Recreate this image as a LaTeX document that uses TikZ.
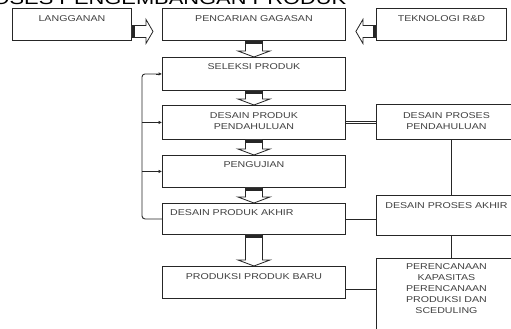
\documentclass[tikz,border=0pt]{standalone}
\usepackage{fontspec}
\newfontfamily\boxfont[FakeStretch=1.25]{Liberation Sans}
\usetikzlibrary{arrows.meta,calc}
\tikzset{
  box/.style={draw=black!85, line width=0.9pt, fill=white, inner sep=0pt, anchor=north west},
  lbl/.style={inner sep=0pt, text=black!75, font=\fontsize{8.5}{11}\selectfont\boxfont, align=center},
  conn/.style={draw=black!85, line width=0.9pt},
  fbarrow/.style={conn, -{Latex[length=3.5pt,width=3.5pt]}},
  blk/.style={fill=white, draw=black!85, line width=0.8pt, line join=miter},
  blkdark/.style={fill=black!85},
}
\newcommand\blockdown[2]{%
  \path[blk] let \p1=(#1.south), \p2=(#2.north) in
    (\x1-8.5pt,\y1) -- (\x1-8.5pt,\y2+6pt) -- (\x1-16pt,\y2+6pt) -- (\x1,\y2)
    -- (\x1+16pt,\y2+6pt) -- (\x1+8.5pt,\y2+6pt) -- (\x1+8.5pt,\y1) -- cycle;
  \path[blkdark] let \p1=(#1.south) in
    (\x1-8.5pt,\y1) rectangle (\x1+8.5pt,\y1-3pt);}
\newcommand\blockright[2]{%
  \path[blk] let \p1=(#1.east), \p2=(#2.west) in
    (\x1,\y1-1pt) -- (\x2-16pt,\y1-1pt) -- (\x2-16pt,\y1+5pt) -- (\x2-9pt,\y1-7pt)
    -- (\x2-16pt,\y1-19pt) -- (\x2-16pt,\y1-13pt) -- (\x1,\y1-13pt) -- cycle;
  \path[blkdark] let \p1=(#1.east) in
    (\x1,\y1-1pt) rectangle (\x1+3pt,\y1-13pt);}
\newcommand\blockleft[2]{%
  \path[blk] let \p1=(#1.west), \p2=(#2.east) in
    (\x1,\y1-1pt) -- (\x2+17pt,\y1-1pt) -- (\x2+17pt,\y1+5pt) -- (\x2+10pt,\y1-7pt)
    -- (\x2+17pt,\y1-19pt) -- (\x2+17pt,\y1-13pt) -- (\x1,\y1-13pt) -- cycle;
  \path[blkdark] let \p1=(#1.west) in
    (\x1,\y1-1pt) rectangle (\x1-3pt,\y1-13pt);}
\begin{document}
\begin{tikzpicture}[x=1pt,y=-1pt]
\useasboundingbox (0,0) rectangle (511,329);
\clip (0,0) rectangle (511,329);
\fill[white] (0,0) rectangle (511,329);
% title (cut at top, as in the reference)
\node[inner sep=0pt, anchor=base west, font=\fontsize{17.5}{20}\selectfont\boxfont] (title) at (-38,4.5) {PROSES PENGEMBANGAN PRODUK};
% boxes
\node[box, minimum width=119pt, minimum height=32pt] (lang) at (12,8) {};
\node[box, minimum width=183pt, minimum height=32pt] (penc) at (162,8) {};
\node[box, minimum width=130pt, minimum height=32pt] (tek) at (376,8) {};
\node[box, minimum width=183pt, minimum height=33pt] (sel) at (162,57) {};
\node[box, minimum width=183pt, minimum height=34pt] (dpp) at (162,105) {};
\node[box, minimum width=183pt, minimum height=32pt] (uji) at (162,155) {};
\node[box, minimum width=183pt, minimum height=31pt] (dpa) at (162,203) {};
\node[box, minimum width=183pt, minimum height=32pt] (prod) at (162,266) {};
\node[box, minimum width=140pt, minimum height=35pt] (dprp) at (376,104) {};
\node[box, minimum width=140pt, minimum height=40pt] (dpra) at (376,195) {};
\node[box, minimum width=140pt, minimum height=80pt] (pkp) at (376,258) {};
% labels
\node[lbl, anchor=north] (tlang) at ([yshift=-7pt]lang.north) {LANGGANAN};
\node[lbl, anchor=north] (tpenc) at ([yshift=-7pt]penc.north) {PENCARIAN GAGASAN};
\node[lbl, anchor=north] (ttek) at ([yshift=-7pt]tek.north) {TEKNOLOGI R\&D};
\node[lbl, anchor=north] (tsel) at ([yshift=-6pt]sel.north) {SELEKSI PRODUK};
\node[lbl, anchor=north] (tdpp) at ([yshift=-7pt]dpp.north) {DESAIN PRODUK\\PENDAHULUAN};
\node[lbl, anchor=north] (tuji) at ([yshift=-6pt]uji.north) {PENGUJIAN};
\node[lbl, anchor=north west] (tdpa) at ([xshift=8pt,yshift=-6pt]dpa.north west) {DESAIN PRODUK AKHIR};
\node[lbl, anchor=north] (tprod) at ([yshift=-7pt]prod.north) {PRODUKSI PRODUK BARU};
\node[lbl, anchor=north] (tdprp) at ([yshift=-8pt]dprp.north) {DESAIN PROSES\\PENDAHULUAN};
\node[lbl, anchor=north] (tdpra) at ([yshift=-7pt]dpra.north) {DESAIN PROSES AKHIR};
\node[lbl, anchor=north] (tpkp) at ([yshift=-5pt]pkp.north) {PERENCANAAN\\KAPASITAS\\PERENCANAAN\\PRODUKSI DAN\\SCEDULING};
% block arrows
\blockright{lang}{penc}
\blockleft{tek}{penc}
\blockdown{penc}{sel}
\blockdown{sel}{dpp}
\blockdown{dpp}{uji}
\blockdown{uji}{dpa}
\blockdown{dpa}{prod}
% feedback lines
\coordinate (fbx) at (142,0);
\draw[conn, rounded corners=3pt] (dpa.west) -- (dpa.west -| fbx) -- (sel.west -| fbx) -- ([xshift=-4pt]sel.west);
\draw[fbarrow] ([xshift=-6pt]sel.west) -- (sel.west);
\draw[fbarrow] (dpp.west -| fbx) -- (dpp.west);
\draw[fbarrow] (uji.west -| fbx) -- (uji.west);
% right-side connectors
\draw[draw=black!85, double=white, double distance=1.2pt, line width=0.6pt] (dpp.east) -- (dpp.east -| dprp.west);
\draw[conn] ([xshift=5pt]dprp.south) -- ([xshift=5pt]dprp.south |- dpra.north);
\draw[conn] ([xshift=5pt]dpra.south) -- ([xshift=5pt]dpra.south |- pkp.north);
\draw[conn] (dpa.east) -- (dpa.east -| dpra.west);
\draw[conn] ([yshift=-7pt]prod.east) -- ([yshift=-7pt]prod.east -| pkp.west);
\end{tikzpicture}
\end{document}
